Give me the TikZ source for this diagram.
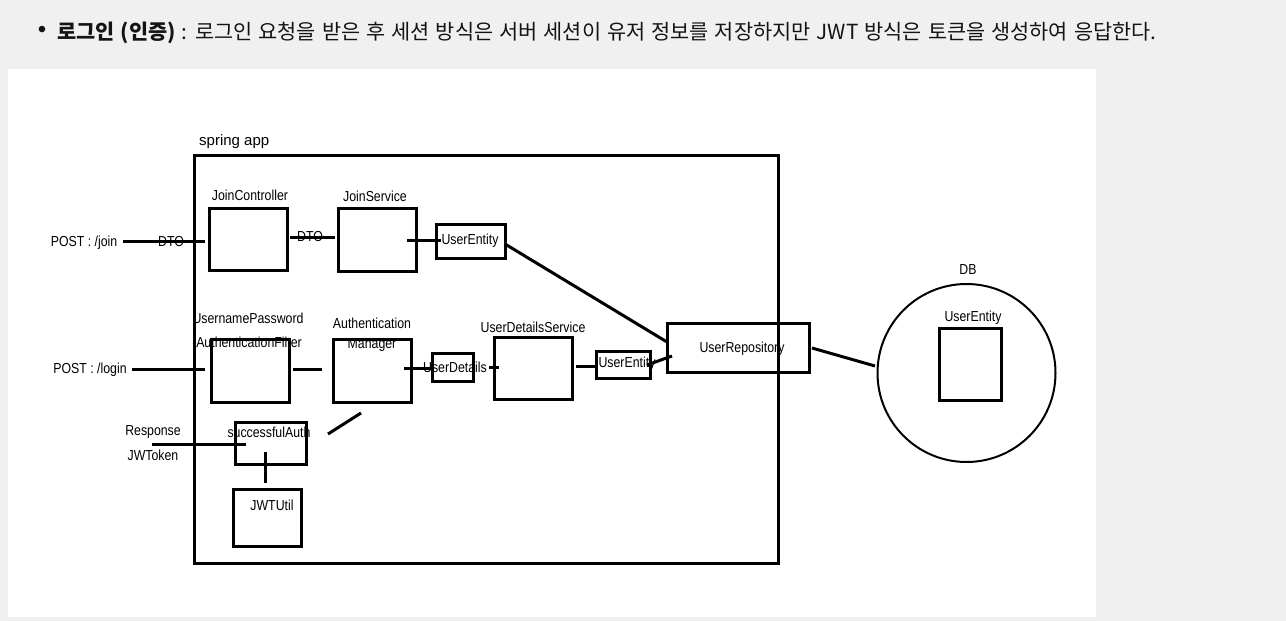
\documentclass[tikz,border=0pt]{standalone}
\usepackage{fontspec}
\setmainfont{Liberation Sans}
\newfontfamily\diag[FakeStretch=0.85]{Liberation Sans}
\newfontfamily\plainsans{Liberation Sans}
\newfontfamily\kr[WordSpace=1.3]{Noto Sans CJK KR}
\definecolor{pagebg}{RGB}{240,240,240}
\definecolor{hdtext}{RGB}{20,20,20}
\begin{document}
\begin{tikzpicture}[x=1pt,y=-1pt,
  box/.style={draw=black,line width=3pt,inner sep=0pt},
  lbl/.style={inner sep=0pt,font=\diag\fontsize{14.5}{16}\selectfont,text=black},
  wire/.style={line width=3pt,draw=black}]
\useasboundingbox (0,0) rectangle (1286,621);
\fill[pagebg] (0,0) rectangle (1286,621);
\fill[white] (8,69) rectangle (1096,617);
% header
\node[inner sep=0pt,text=hdtext,font=\plainsans\fontsize{24}{26}\selectfont] (bul) at (42,32) {•};
\node[inner sep=0pt,anchor=base west,text=hdtext,font=\kr\fontsize{20.8}{23}\selectfont] (hdr) at (57,39)
  {\textbf{로그인 (인증)} : 로그인 요청을 받은 후 세션 방식은 서버 세션이 유저 정보를 저장하지만 JWT 방식은 토큰을 생성하여 응답한다.};
% frame
\node[box,minimum width=584pt,minimum height=408pt] (app) at (486,359) {};
\node[inner sep=0pt,anchor=west,font=\plainsans\fontsize{15}{17}\selectfont] (appl) at (199,142) {spring app};
% boxes
\node[box,minimum width=78pt,minimum height=62pt] (jc) at (248,239) {};
\node[box,minimum width=78pt,minimum height=63pt] (js) at (377,239.5) {};
\node[box,minimum width=69pt,minimum height=34pt] (ue1) at (470.5,241) {};
\node[box,minimum width=78pt,minimum height=63pt] (upf) at (250,370.5) {};
\node[box,minimum width=78pt,minimum height=63pt] (am) at (372,370.5) {};
\node[box,minimum width=41pt,minimum height=28pt] (ud) at (452.5,367) {};
\node[box,minimum width=78pt,minimum height=62pt] (uds) at (533,368) {};
\node[box,minimum width=54pt,minimum height=27pt] (ue2) at (623,364.5) {};
\node[box,minimum width=142pt,minimum height=49pt] (repo) at (738,347.5) {};
\node[draw=black,line width=2pt,circle,minimum size=178pt,inner sep=0pt] (db) at (966.5,373) {};
\node[box,minimum width=62pt,minimum height=72pt] (ue3) at (970,364) {};
\node[box,minimum width=71pt,minimum height=42pt] (sa) at (270.5,443) {};
\node[box,minimum width=68pt,minimum height=57pt] (jwt) at (267,517.5) {};
% connectors (endpoints)
\coordinate (pj) at (123,241); \coordinate (jcin) at (205,241);
\coordinate (jco) at (290,237); \coordinate (jsi) at (335,237);
\coordinate (jso) at (407,240); \coordinate (uei) at (441,240);
\coordinate (ueo) at (505,244); \coordinate (repoa) at (667,342);
\coordinate (pl) at (132,369); \coordinate (upfin) at (205,369);
\coordinate (upfo) at (293,369); \coordinate (ami) at (322,369);
\coordinate (amo) at (404,368); \coordinate (udi) at (432,368);
\coordinate (udo) at (489,367); \coordinate (udsi) at (499,367);
\coordinate (udso) at (576,366); \coordinate (ue2i) at (596,366);
\coordinate (ue2o) at (647,365); \coordinate (repob) at (672,356);
\coordinate (repoo) at (812,348); \coordinate (dbi) at (875,366);
\coordinate (amd) at (361,413); \coordinate (sau) at (328,434);
\coordinate (resp) at (152,444); \coordinate (sain) at (246,444);
\coordinate (sad) at (265,452); \coordinate (jwtu) at (265,483);
\draw[wire] (pj) -- (jcin);
\draw[wire] (jco) -- (jsi);
\draw[wire] (jso) -- (uei);
\draw[wire] (ueo) -- (repoa);
\draw[wire] (pl) -- (upfin);
\draw[wire] (upfo) -- (ami);
\draw[wire] (amo) -- (udi);
\draw[wire] (udo) -- (udsi);
\draw[wire] (udso) -- (ue2i);
\draw[wire] (ue2o) -- (repob);
\draw[wire] (repoo) -- (dbi);
\draw[wire] (amd) -- (sau);
\draw[wire] (resp) -- (sain);
\draw[wire] (sad) -- (jwtu);
% labels
\node[lbl] (t1) at (250,195) {JoinController};
\node[lbl] (t2) at (375,196) {JoinService};
\node[lbl] (t3) at (470,241) {UserEntity};
\node[lbl] (t4) at (84,243) {POST : /join};
\node[lbl] (t5) at (171,242) {DTO};
\node[lbl] (t6) at (310,237) {DTO};
\node[lbl] (t7) at (248,318) {UsernamePassword};
\node[lbl] (t8) at (249,342) {AuthenticationFilter};
\node[lbl] (t9) at (372,323) {Authentication};
\node[lbl] (t10) at (372,345) {Manager};
\node[lbl] (t11) at (90,370) {POST : /login};
\node[lbl] (t12) at (455,367) {UserDetails};
\node[lbl] (t13) at (533,327) {UserDetailsService};
\node[lbl] (t14) at (627,364) {UserEntity};
\node[lbl] (t15) at (742,349) {UserRepository};
\node[lbl] (t16) at (968,270) {DB};
\node[lbl] (t17) at (973,318) {UserEntity};
\node[lbl] (t18) at (269,432) {successfulAuth};
\node[lbl] (t19) at (153,432) {Response};
\node[lbl] (t20) at (153,455) {JWToken};
\node[lbl] (t21) at (272,505) {JWTUtil};
\end{tikzpicture}
\end{document}
